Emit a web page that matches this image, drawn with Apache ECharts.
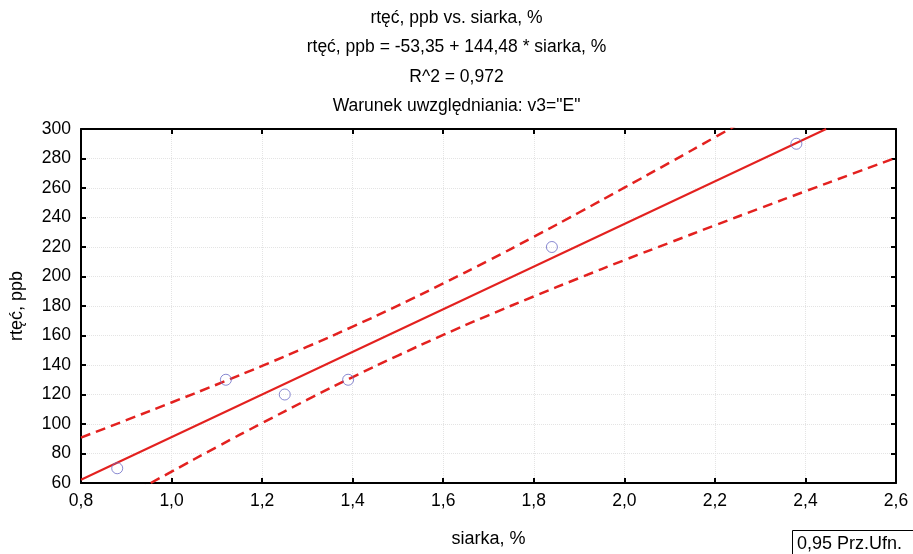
<!DOCTYPE html>
<html><head><meta charset="utf-8">
<script src="https://cdn.jsdelivr.net/npm/echarts@6/dist/echarts.min.js"></script>
<style>html,body{margin:0;padding:0;background:#fff}#c{width:913px;height:554px}</style>
</head><body><div id="c"></div>
<script>
const titleLines = ['rtęć, ppb vs. siarka, %', 'rtęć, ppb = -53,35 + 144,48 * siarka, %', 'R^2 = 0,972', 'Warunek uwzględniania: v3="E"'];
const xName = 'siarka, %';
const yName = 'rtęć, ppb';
const legendLabel = '0,95 Prz.Ufn.';
const pointsX = [0.88, 1.12, 1.25, 1.39, 1.84, 2.38];
const pointsY = [70, 130, 120, 130, 220, 290];
const fitX = [0.8, 2.4457];
const fitY = [62.2, 300];
const bandX = [0.8, 0.9, 1.0, 1.1, 1.2, 1.3, 1.4, 1.5, 1.6, 1.7, 1.8, 1.9, 2.0, 2.1, 2.2, 2.3, 2.4, 2.5, 2.6];
const upperY = [90.8, 102.6, 114.6, 126.8, 139.4, 152.4, 166.0, 180.3, 195.3, 210.8, 226.9, 243.4, 260.2, 277.2, 294.4, 311.6, 329.0, 346.5, 364.0];
const lowerY = [33.7, 50.8, 67.7, 84.4, 100.6, 116.5, 131.8, 146.4, 160.4, 173.7, 186.5, 198.9, 211.1, 222.9, 234.7, 246.3, 257.8, 269.2, 280.5];

const zip = (a, b) => a.map((v, i) => [v, b[i]]);
const FONT = 'Liberation Sans, Arial, sans-serif';
const RED = '#e3211f';
const chart = echarts.init(document.getElementById('c'), null, {renderer: 'canvas'});

const gridLeft = 81, gridRight = 17, gridTop = 129, gridBottom = 71;
const axisCommonX = {type: 'value', min: 0.8, max: 2.6, interval: 0.2};
const axisCommonY = {type: 'value', min: 60, max: 300, interval: 20};

chart.setOption({
  animation: false,
  backgroundColor: '#fff',
  title: titleLines.map((t, i) => ({
    text: t, left: 'center', top: 4 + i * 29.5,
    textStyle: {fontFamily: FONT, fontSize: 17.5, fontWeight: 'normal', color: '#000'}
  })),
  grid: {left: gridLeft, right: gridRight, top: gridTop, bottom: gridBottom, containLabel: false},
  xAxis: [
    Object.assign({}, axisCommonX, {
      position: 'bottom',
      name: xName, nameLocation: 'middle', nameGap: 47,
      nameTextStyle: {fontFamily: FONT, fontSize: 18, color: '#000'},
      axisLine: {show: true, onZero: false, lineStyle: {color: '#000', width: 2}},
      axisTick: {show: true, inside: true, length: 5, lineStyle: {color: '#000', width: 2}},
      axisLabel: {fontFamily: FONT, fontSize: 17.5, color: '#000', margin: 9,
        formatter: v => v.toFixed(1).replace('.', ',')},
      splitLine: {show: true, lineStyle: {color: '#e4e4e4', type: 'dotted', width: 1}}
    }),
    Object.assign({}, axisCommonX, {
      position: 'top',
      axisLine: {show: true, onZero: false, lineStyle: {color: '#000', width: 2}},
      axisTick: {show: true, inside: true, length: 5, lineStyle: {color: '#000', width: 2}},
      axisLabel: {show: false}, splitLine: {show: false}
    })
  ],
  yAxis: [
    Object.assign({}, axisCommonY, {
      position: 'left',
      name: yName, nameLocation: 'middle', nameGap: 55, nameRotate: 90,
      nameTextStyle: {fontFamily: FONT, fontSize: 18, color: '#000'},
      axisLine: {show: true, onZero: false, lineStyle: {color: '#000', width: 2}},
      axisTick: {show: true, inside: true, length: 5, lineStyle: {color: '#000', width: 2}},
      axisLabel: {fontFamily: FONT, fontSize: 17.5, color: '#000', margin: 10},
      splitLine: {show: true, lineStyle: {color: '#e4e4e4', type: 'dotted', width: 1}}
    }),
    Object.assign({}, axisCommonY, {
      position: 'right',
      axisLine: {show: true, onZero: false, lineStyle: {color: '#000', width: 2}},
      axisTick: {show: true, inside: true, length: 5, lineStyle: {color: '#000', width: 2}},
      axisLabel: {show: false}, splitLine: {show: false}
    })
  ],
  series: [
    {type: 'line', data: zip(bandX, upperY), smooth: true, showSymbol: false, clip: true,
      lineStyle: {color: RED, width: 2.5, type: [10, 6]}, z: 3},
    {type: 'line', data: zip(bandX, lowerY), smooth: true, showSymbol: false, clip: true,
      lineStyle: {color: RED, width: 2.5, type: [10, 6]}, z: 3},
    {type: 'line', data: zip(fitX, fitY), showSymbol: false, clip: true,
      lineStyle: {color: RED, width: 2}, z: 4},
    {type: 'scatter', data: zip(pointsX, pointsY), symbol: 'circle', symbolSize: 11,
      itemStyle: {color: 'rgba(255,255,255,0)', borderColor: '#6b6bc6', borderWidth: 1}, z: 5}
  ],
  graphic: [
    {type: 'rect', shape: {x: 792.5, y: 530.5, width: 140, height: 40},
      style: {fill: '#fff', stroke: '#000', lineWidth: 1}},
    {type: 'text', x: 797, y: 535,
      style: {text: legendLabel, font: '18px ' + FONT, fill: '#000'}}
  ]
});
</script></body></html>
